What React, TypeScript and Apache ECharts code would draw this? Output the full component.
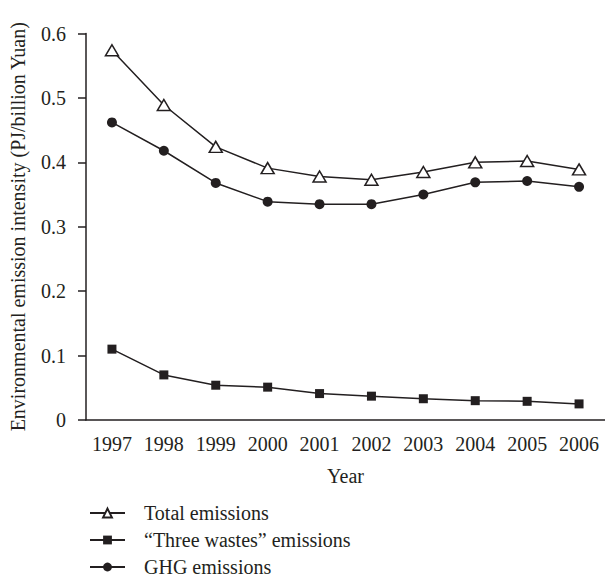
import React, { useEffect, useRef } from "react";
import * as echarts from "echarts";

const years = ["1997", "1998", "1999", "2000", "2001", "2002", "2003", "2004", "2005", "2006"];
const totalEmissions = [0.574, 0.489, 0.424, 0.391, 0.378, 0.373, 0.385, 0.4, 0.402, 0.389];
const threeWastes = [0.11, 0.07, 0.054, 0.051, 0.041, 0.037, 0.033, 0.03, 0.029, 0.025];
const ghgEmissions = [0.462, 0.418, 0.368, 0.339, 0.335, 0.335, 0.35, 0.369, 0.371, 0.362];
const seriesNames = ["Total emissions", "\u201CThree wastes\u201D emissions", "GHG emissions"];

const FONT = "Liberation Serif";
const INK = "#231f20";

export default function App() {
  const ref = useRef<HTMLDivElement>(null);

  useEffect(() => {
    document.body.style.margin = "0";
    if (!ref.current) return;
    const chart = echarts.init(ref.current, null, { renderer: "svg" });
    const common = {
      type: "line" as const,
      lineStyle: { color: INK, width: 1.5 },
      showSymbol: true,
      emphasis: { disabled: true },
    };
    chart.setOption({
      animation: false,
      backgroundColor: "#fff",
      textStyle: { fontFamily: FONT, color: INK },
      grid: { left: 86, top: 33.5, bottom: 158, right: -3, containLabel: false },
      xAxis: {
        type: "category",
        data: years,
        boundaryGap: true,
        name: "Year",
        nameLocation: "middle",
        nameGap: 46,
        nameTextStyle: { fontFamily: FONT, fontSize: 20, color: INK },
        axisLine: { lineStyle: { color: INK, width: 1.5 } },
        axisTick: { alignWithLabel: true, length: 8, lineStyle: { color: INK, width: 1.5 } },
        axisLabel: { fontFamily: FONT, fontSize: 20, color: INK, margin: 14, interval: 0 },
        splitLine: { show: false },
      },
      yAxis: {
        type: "value",
        min: 0,
        max: 0.6,
        interval: 0.1,
        name: "Environmental emission intensity (PJ/billion Yuan)",
        nameLocation: "middle",
        nameGap: 58,
        nameTextStyle: { fontFamily: FONT, fontSize: 20, color: INK },
        axisLine: { show: true, lineStyle: { color: INK, width: 1.5 } },
        axisTick: { show: true, length: 8, lineStyle: { color: INK, width: 1.5 } },
        axisLabel: {
          fontFamily: FONT,
          fontSize: 20,
          color: INK,
          margin: 20,
          formatter: (v: number) => (v === 0 ? "0" : v.toFixed(1)),
        },
        splitLine: { show: false },
      },
      legend: {
        orient: "vertical",
        left: 89,
        top: 503,
        height: 90,
        padding: 0,
        itemWidth: 35,
        itemHeight: 11,
        itemGap: 7,
        data: seriesNames,
        formatter: (name: string) => `{t|${name}}`,
        textStyle: {
          fontFamily: FONT,
          fontSize: 20,
          color: INK,
          rich: {
            t: { fontFamily: FONT, fontSize: 20, color: INK, lineHeight: 20, padding: [0, 0, 0, 14] },
          },
        },
      },
      series: [
        {
          ...common,
          name: seriesNames[0],
          data: totalEmissions,
          symbol: "triangle",
          symbolSize: [13, 11],
          itemStyle: { color: "#fff", borderColor: INK, borderWidth: 1.5 },
        },
        {
          ...common,
          name: seriesNames[1],
          data: threeWastes,
          symbol: "rect",
          symbolSize: 9,
          itemStyle: { color: INK, borderColor: INK, borderWidth: 0 },
        },
        {
          ...common,
          name: seriesNames[2],
          data: ghgEmissions,
          symbol: "circle",
          symbolSize: 10,
          itemStyle: { color: INK, borderColor: INK, borderWidth: 0 },
        },
      ],
    });
    return () => chart.dispose();
  }, []);

  return <div ref={ref} style={{ width: 605, height: 578 }} />;
}
